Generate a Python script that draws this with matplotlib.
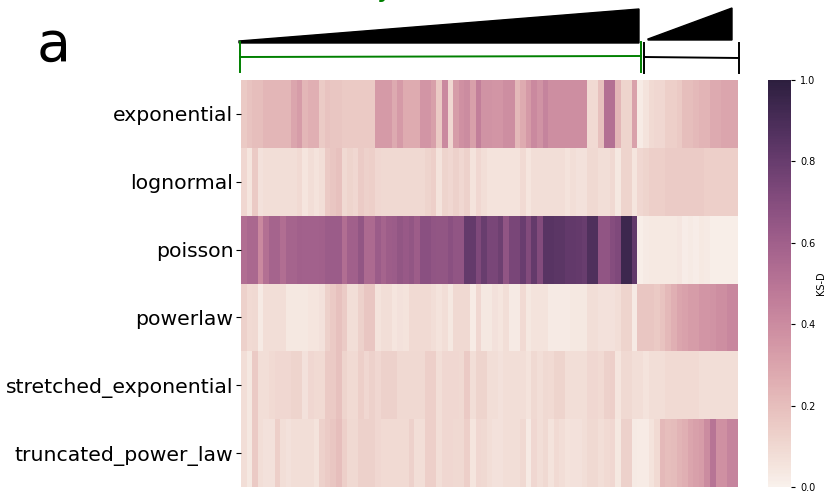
import numpy as np #import functions
import matplotlib
matplotlib.use("Agg")
import matplotlib.pyplot as plt
import seaborn as sns
from matplotlib.patches import Polygon
from matplotlib.lines import Line2D

W, H = 828, 491 #size of the picture in pixels

distributions = ["exponential", "lognormal", "poisson", "powerlaw", "stretched_exponential", "truncated_power_law"]

#KS-D per network, first 71 columns are the green group, last 18 the black group
exponential = [.16,.18,.20,.20,.23,.23,.23,.23,.23,.30,.33,.23,.26,.26,.15,.18,.17,.17,.16,.16,.16,.155,.155,.155,
               .34,.34,.34,.28,.34,.27,.27,.27,.36,.36,.32,.16,.41,.105,.33,.38,.40,.32,.45,.37,.37,.36,.36,.39,.39,.22,
               .27,.34,.41,.37,.43,.39,.39,.39,.39,.39,.39,.39,.09,.09,.19,.52,.52,.23,.115,.115,.31,
               .025,.06,.09,.105,.105,.14,.14,.16,.20,.20,.22,.24,.24,.28,.28,.30,.30,.30]
lognormal = [.105,.05,.155,.065,.075,.08,.08,.08,.075,.075,.09,.05,.08,.06,.075,.155,.17,.19,.095,.115,.105,.15,.125,.135,
             .105,.095,.095,.095,.095,.095,.095,.095,.095,.115,.135,.06,.115,.105,.125,.105,.125,.06,.105,.08,.06,.06,.06,.06,.06,.06,
             .09,.05,.08,.075,.075,.08,.08,.08,.06,.075,.065,.065,.095,.095,.08,.08,.095,.04,.115,.115,.05,
             .105,.115,.14,.14,.14,.15,.15,.15,.15,.15,.15,.15,.14,.14,.14,.135,.135,.135]
poisson = [.53,.56,.56,.41,.52,.58,.58,.53,.58,.58,.60,.59,.59,.59,.60,.62,.62,.62,.53,.60,.60,.65,.55,.55,
           .62,.58,.61,.62,.65,.63,.65,.61,.68,.68,.66,.65,.65,.68,.66,.66,.81,.81,.72,.80,.74,.74,.78,.66,.74,.74,
           .79,.71,.81,.71,.85,.85,.84,.84,.82,.82,.81,.80,.88,.88,.66,.66,.70,.72,.94,.94,.82,
           .015,.03,.035,.035,.035,.035,.035,.045,.02,.03,.02,.035,.03,.015,.015,.015,.015,.015]
powerlaw = [.125,.09,.095,.03,.075,.075,.08,.075,.04,.04,.04,.04,.05,.05,.065,.125,.16,.19,.15,.08,.08,.125,.17,.17,
            .06,.08,.075,.05,.065,.06,.09,.09,.09,.09,.08,.06,.075,.04,.095,.095,.095,.025,.105,.04,.04,.065,.05,.08,.03,.03,
            .09,.04,.06,.06,.06,.03,.03,.03,.03,.04,.04,.04,.08,.08,.065,.065,.065,.08,.115,.115,.03,
            .17,.17,.17,.16,.18,.22,.26,.30,.31,.33,.33,.36,.36,.37,.39,.39,.42,.42]
stretched_exponential = [.075,.04,.155,.08,.08,.09,.105,.105,.105,.115,.115,.065,.105,.09,.09,.16,.16,.19,.115,.09,.09,.135,.105,.125,
                         .105,.125,.125,.125,.095,.095,.095,.095,.095,.14,.14,.075,.105,.105,.105,.095,.16,.08,.115,.115,.075,.075,.065,.08,.08,.08,
                         .08,.06,.095,.08,.095,.09,.115,.115,.075,.08,.075,.075,.105,.105,.09,.125,.135,.05,.095,.095,.08,
                         .075,.06,.08,.08,.08,.09,.09,.09,.09,.09,.09,.08,.08,.08,.08,.08,.08,.08]
truncated_power_law = [.075,.04,.155,.075,.065,.065,.14,.075,.065,.075,.08,.08,.08,.06,.125,.15,.17,.20,.14,.095,.095,.125,.125,.125,
                       .105,.09,.09,.09,.09,.09,.125,.08,.08,.135,.135,.08,.105,.105,.095,.095,.14,.05,.105,.095,.075,.065,.065,.075,.075,.08,
                       .095,.03,.105,.075,.095,.06,.09,.075,.06,.065,.065,.08,.095,.095,.08,.09,.105,.04,.125,.125,.03,
                       .025,.025,.06,.09,.22,.20,.21,.24,.26,.30,.32,.33,.40,.50,.38,.38,.43,.43]

values = np.array([exponential, lognormal, poisson, powerlaw, stretched_exponential, truncated_power_law])

def px_box(x0, y0, x1, y1): #pixel box (top left origin) to a figure axes rectangle
    return [x0/W, 1-y1/H, (x1-x0)/W, (y1-y0)/H]

def px(points): #pixel points to figure fractions
    return [(x/W, 1-y/H) for x, y in points]

fig = plt.figure(figsize=(W/100, H/100), dpi=100)
ax = fig.add_axes(px_box(241, 80, 738, 487))
cax = fig.add_axes(px_box(768, 80, 791, 487))

cmap = sns.cubehelix_palette(light=.95, as_cmap=True)
sns.heatmap(values, ax=ax, cbar_ax=cax, cmap=cmap, vmin=0, vmax=1, xticklabels=False,
            yticklabels=distributions, cbar_kws={"label": "KS-D"})
ax.set_yticklabels(distributions, rotation=0, fontsize=14.7, va="center_baseline")
ax.tick_params(axis="y", length=3.5, width=0.8, pad=2)
cax.tick_params(labelsize=7, length=3, width=0.8)
cax.yaxis.label.set_size(7)
cax.yaxis.set_label_coords(2.09, 0.5)

#wedges and brackets above the heatmap
fig.add_artist(Polygon(px([(239, 41), (639, 9), (639, 43), (239, 43)]), closed=True, color="black", transform=fig.transFigure))
fig.add_artist(Polygon(px([(648, 39), (732, 8), (732, 40), (648, 40)]), closed=True, color="black", transform=fig.transFigure))

def bracket(x0, y0, x1, y1, top, bottom, color):
    for pts in ([(x0, y0), (x1, y1)], [(x0, top), (x0, bottom)], [(x1, top), (x1, bottom)]):
        xy = px(pts)
        fig.add_artist(Line2D([xy[0][0], xy[1][0]], [xy[0][1], xy[1][1]], color=color, lw=1.4, transform=fig.transFigure))

bracket(240, 57, 641, 56, 42, 72, "green")
bracket(644, 57, 739, 58, 43, 73, "black")

fig.text(37/W, 1-61/H, "a", fontsize=40, color="black")
fig.text(384/W, 1-(-4)/H, "y", fontsize=20, color="green", ha="center", va="baseline")

fig.savefig("out.png", dpi=100)
